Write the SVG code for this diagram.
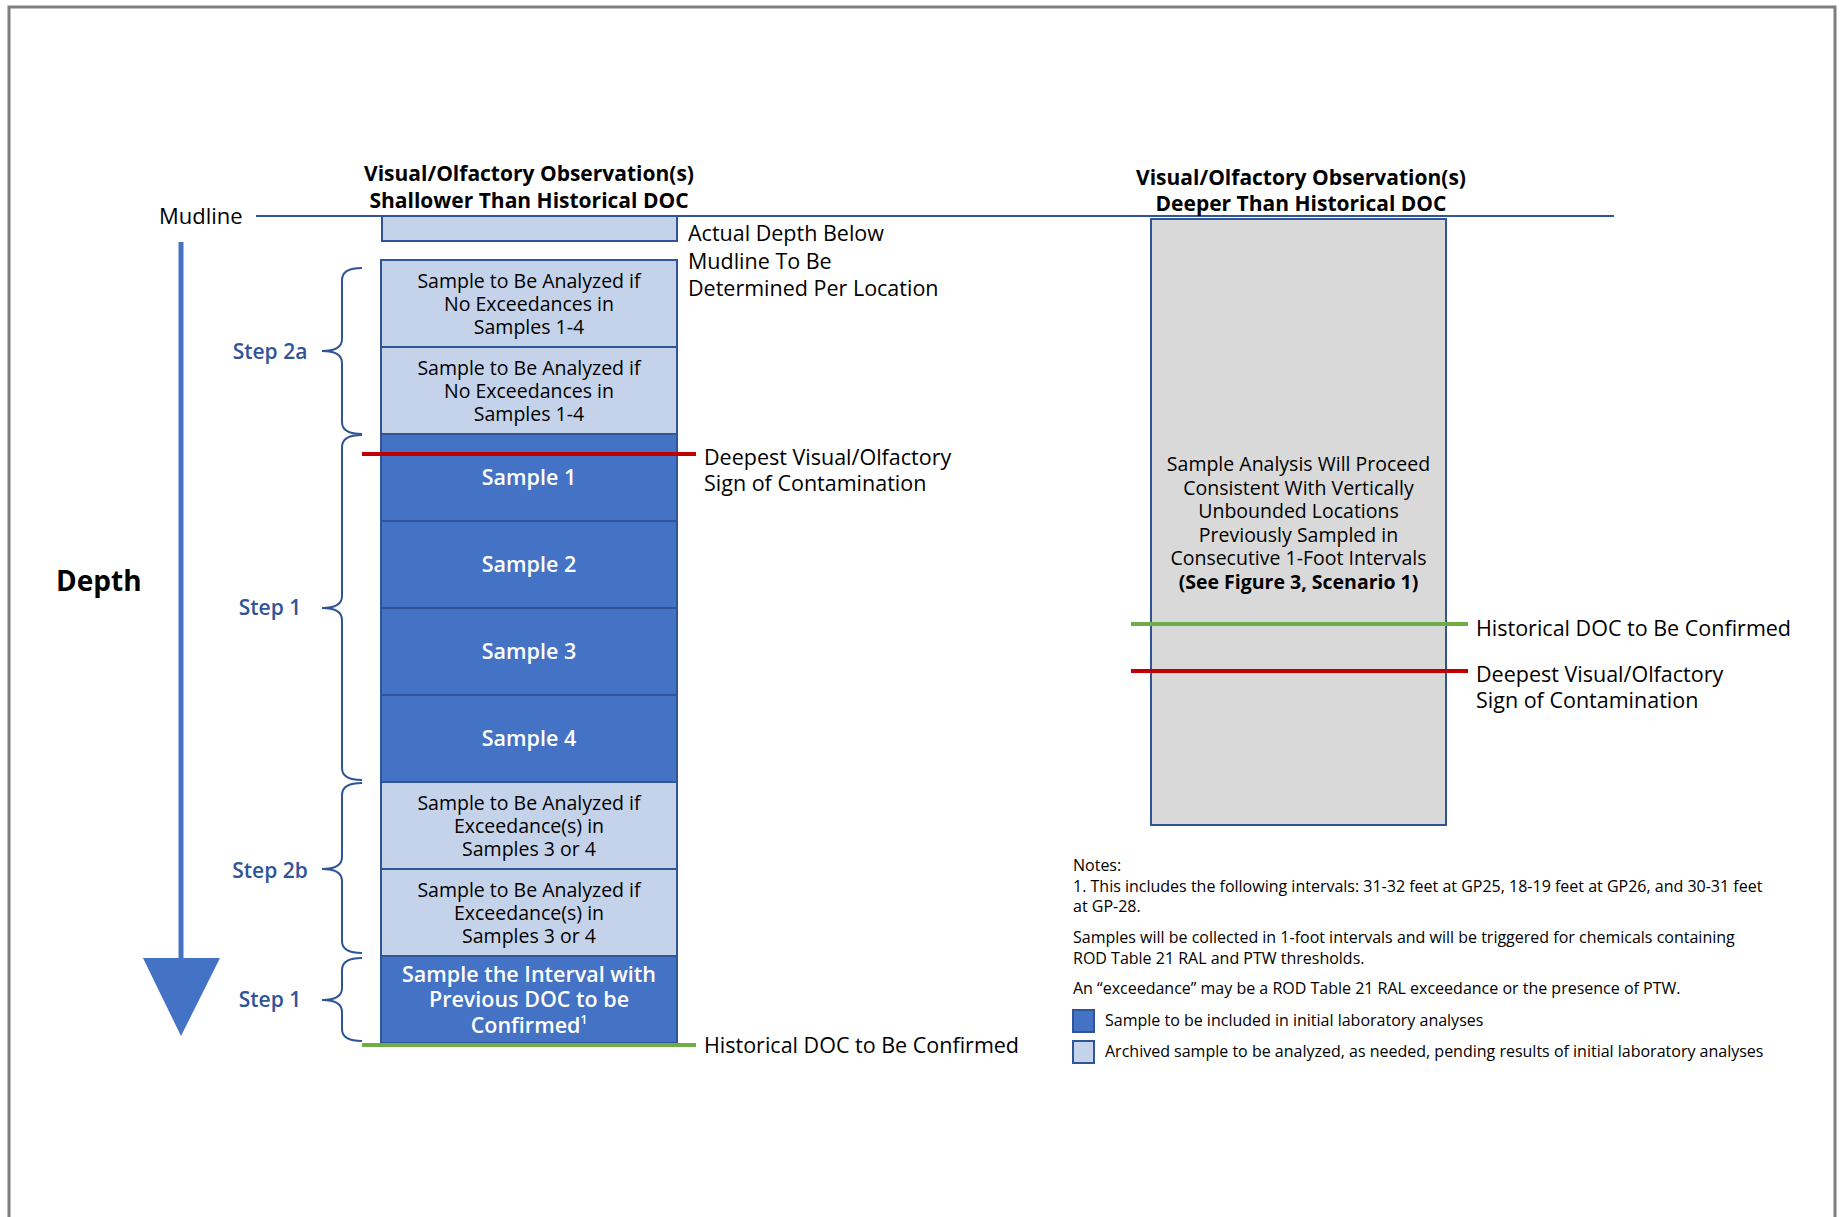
<svg xmlns="http://www.w3.org/2000/svg" width="1843" height="1217" viewBox="0 0 1843 1217">
<style>
text{font-family:"Open Sans","Noto Sans","Liberation Sans",sans-serif;fill:#000}
.lb{fill:#c5d3ea;stroke:#2f5597;stroke-width:2}
.db{fill:#4472c4;stroke:#2f5597;stroke-width:2}
.bt{font-size:19.5px;text-anchor:middle}
.wt{font-size:21.5px;font-weight:600;fill:#fff;text-anchor:middle}
.ttl{font-size:21px;font-weight:700;text-anchor:middle}
.lab{font-size:21.5px;font-weight:500}
.step{font-size:21px;fill:#2f5597;text-anchor:middle;font-weight:600}
.br{fill:none;stroke:#2f5597;stroke-width:2}
.note{font-size:16px}
</style>
<rect width="1843" height="1217" fill="#fff"/>
<g id="frame" fill="none" stroke="#7f7f7f" stroke-width="3">
<path d="M9,1217 V7 H1835 V1217"/>
</g>
<g id="connectors">
<line x1="256" y1="216" x2="1614" y2="216" stroke="#2f5597" stroke-width="2"/>
<line x1="181" y1="242" x2="181" y2="960" stroke="#4472c4" stroke-width="5"/>
<polygon points="143,958 220,958 181,1036" fill="#4472c4"/>
<path class="br" d="M362,268 Q342,268 342,280 V339 Q342,351 322,351 Q342,351 342,363 V422 Q342,434 362,434"/>
<path class="br" d="M362,435 Q342,435 342,447 V596 Q342,608 322,608 Q342,608 342,620 V768 Q342,780 362,780"/>
<path class="br" d="M362,783 Q342,783 342,795 V857 Q342,869 322,869 Q342,869 342,881 V941 Q342,953 362,953"/>
<path class="br" d="M362,958 Q342,958 342,970 V988 Q342,1000 322,1000 Q342,1000 342,1012 V1029 Q342,1041 362,1041"/>
</g>
<g id="title-left">
<text class="ttl" x="529" y="181">Visual/Olfactory Observation(s)</text>
<text class="ttl" x="529" y="208">Shallower Than Historical DOC</text>
</g>
<g id="title-right">
<text class="ttl" x="1301" y="185">Visual/Olfactory Observation(s)</text>
<text class="ttl" x="1301" y="211">Deeper Than Historical DOC</text>
</g>
<g id="mudline-label"><text x="159" y="224" font-size="22">Mudline</text></g>
<g id="depth-label"><text x="56" y="591" font-size="28" font-weight="700">Depth</text></g>
<g id="top-box"><rect class="lb" x="382" y="216" width="295" height="25"/></g>
<g id="box-2a-1"><rect class="lb" x="381" y="260" width="296" height="87"/>
<text class="bt" x="529" y="287.5">Sample to Be Analyzed if</text><text class="bt" x="529" y="310.5">No Exceedances in</text><text class="bt" x="529" y="333.5">Samples 1-4</text></g>
<g id="box-2a-2"><rect class="lb" x="381" y="347" width="296" height="87"/>
<text class="bt" x="529" y="374.5">Sample to Be Analyzed if</text><text class="bt" x="529" y="397.5">No Exceedances in</text><text class="bt" x="529" y="420.5">Samples 1-4</text></g>
<g id="sample-1"><rect class="db" x="381" y="434" width="296" height="87"/><text class="wt" x="529" y="485">Sample 1</text></g>
<g id="sample-2"><rect class="db" x="381" y="521" width="296" height="87"/><text class="wt" x="529" y="572">Sample 2</text></g>
<g id="sample-3"><rect class="db" x="381" y="608" width="296" height="87"/><text class="wt" x="529" y="659">Sample 3</text></g>
<g id="sample-4"><rect class="db" x="381" y="695" width="296" height="87"/><text class="wt" x="529" y="746">Sample 4</text></g>
<g id="box-2b-1"><rect class="lb" x="381" y="782" width="296" height="87"/>
<text class="bt" x="529" y="809.5">Sample to Be Analyzed if</text><text class="bt" x="529" y="832.5">Exceedance(s) in</text><text class="bt" x="529" y="855.5">Samples 3 or 4</text></g>
<g id="box-2b-2"><rect class="lb" x="381" y="869" width="296" height="87"/>
<text class="bt" x="529" y="896.5">Sample to Be Analyzed if</text><text class="bt" x="529" y="919.5">Exceedance(s) in</text><text class="bt" x="529" y="942.5">Samples 3 or 4</text></g>
<g id="box-final"><rect class="db" x="381" y="956" width="296" height="87"/>
<text class="wt" x="529" y="981.5" font-size="22">Sample the Interval with</text>
<text class="wt" x="529" y="1006.5" font-size="22">Previous DOC to be</text>
<text class="wt" x="529" y="1032.5" font-size="22">Confirmed<tspan font-size="12" dy="-9">1</tspan></text></g>
<g id="steps">
<text class="step" x="270" y="358.5">Step 2a</text>
<text class="step" x="270" y="615">Step 1</text>
<text class="step" x="270" y="877.5">Step 2b</text>
<text class="step" x="270" y="1006.5">Step 1</text>
</g>
<g id="left-markers">
<line x1="362" y1="454" x2="696" y2="454" stroke="#c00000" stroke-width="4"/>
<line x1="362" y1="1045" x2="696" y2="1045" stroke="#70ad47" stroke-width="4"/>
</g>
<g id="left-labels">
<text class="lab" x="688" y="241">Actual Depth Below</text>
<text class="lab" x="688" y="268.5">Mudline To Be</text>
<text class="lab" x="688" y="296">Determined Per Location</text>
<text class="lab" x="704" y="464.5">Deepest Visual/Olfactory</text>
<text class="lab" x="704" y="491">Sign of Contamination</text>
<text class="lab" x="704" y="1053">Historical DOC to Be Confirmed</text>
</g>
<g id="gray-box"><rect x="1151" y="219" width="295" height="606" fill="#d9d9d9" stroke="#2f5597" stroke-width="2"/>
<text class="bt" x="1298.5" y="471">Sample Analysis Will Proceed</text>
<text class="bt" x="1298.5" y="494.5">Consistent With Vertically</text>
<text class="bt" x="1298.5" y="518">Unbounded Locations</text>
<text class="bt" x="1298.5" y="541.5">Previously Sampled in</text>
<text class="bt" x="1298.5" y="565">Consecutive 1-Foot Intervals</text>
<text class="bt" x="1298.5" y="588.5" font-weight="700">(See Figure 3, Scenario 1)</text></g>
<g id="right-markers">
<line x1="1131" y1="624" x2="1468" y2="624" stroke="#70ad47" stroke-width="4"/>
<line x1="1131" y1="671" x2="1468" y2="671" stroke="#c00000" stroke-width="4"/>
</g>
<g id="right-labels">
<text class="lab" x="1476" y="635.5">Historical DOC to Be Confirmed</text>
<text class="lab" x="1476" y="682">Deepest Visual/Olfactory</text>
<text class="lab" x="1476" y="707.5">Sign of Contamination</text>
</g>
<g id="notes">
<text class="note" x="1073" y="870.5">Notes:</text>
<text class="note" x="1073" y="891.5">1. This includes the following intervals: 31-32 feet at GP25, 18-19 feet at GP26, and 30-31 feet</text>
<text class="note" x="1073" y="911.5">at GP-28.</text>
<text class="note" x="1073" y="942.5">Samples will be collected in 1-foot intervals and will be triggered for chemicals containing</text>
<text class="note" x="1073" y="963.5">ROD Table 21 RAL and PTW thresholds.</text>
<text class="note" x="1073" y="994">An “exceedance” may be a ROD Table 21 RAL exceedance or the presence of PTW.</text>
</g>
<g id="legend">
<rect class="db" x="1073" y="1010" width="21" height="22"/>
<text class="note" x="1105" y="1026">Sample to be included in initial laboratory analyses</text>
<rect class="lb" x="1073" y="1041" width="21" height="22"/>
<text class="note" x="1105" y="1057">Archived sample to be analyzed, as needed, pending results of initial laboratory analyses</text>
</g>
</svg>
